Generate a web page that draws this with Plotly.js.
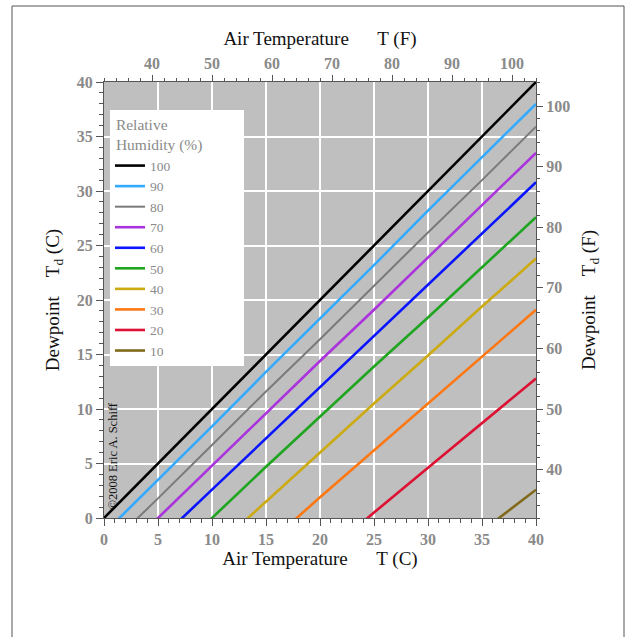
<!DOCTYPE html>
<html>
<head>
<meta charset="utf-8">
<script src="https://cdn.plot.ly/plotly-3.0.1.min.js"></script>
<style>html,body{margin:0;padding:0;background:#fff;}#chart{width:632px;height:637px;}</style>
</head>
<body>
<div id="chart"></div>
<script>
// Air temperature (C) sample points
const airTempC = [0, 5, 10, 15, 20, 25, 30, 35, 40];
// Relative humidity labels (%)
const rhLabels = ['100', '90', '80', '70', '60', '50', '40', '30', '20', '10'];
// Dewpoint (C) for each RH curve
const td100 = [0, 5, 10, 15, 20, 25, 30, 35, 40];
const td90 = [-1.4, 3.5, 8.4, 13.4, 18.3, 23.2, 28.2, 33.1, 38.0];
const td80 = [-3.0, 1.8, 6.7, 11.6, 16.4, 21.3, 26.2, 31.0, 35.9];
const td70 = [-4.8, 0.0, 4.8, 9.6, 14.4, 19.1, 23.9, 28.7, 33.5];
const td60 = [-6.9, -2.1, 2.6, 7.3, 12.0, 16.7, 21.4, 26.1, 30.8];
const td50 = [-9.2, -4.6, 0.0, 4.7, 9.3, 13.9, 18.4, 23.0, 27.6];
const td40 = [-12.0, -7.5, -3.0, 1.5, 6.0, 10.5, 14.9, 19.4, 23.8];
const td30 = [-15.6, -11.2, -6.8, -2.5, 1.9, 6.2, 10.5, 14.8, 19.1];
const td20 = [-20.3, -16.2, -12.0, -7.8, -3.7, 0.5, 4.6, 8.7, 12.8];
const td10 = [-28.1, -24.5, -20.9, -17.4, -14.0, -10.6, -5.0, -1.2, 2.6];
const fahrenheitRange = [32, 104];

const series = [td100, td90, td80, td70, td60, td50, td40, td30, td20, td10];
const colors = ['#000000', '#33aaff', '#7a7a7a', '#aa33dd', '#0a14ff', '#1fa51f', '#ccaa11', '#ff7711', '#dd1133', '#806a1a'];
const widths = [2.6, 2.6, 2, 2.6, 2.6, 2.6, 2.6, 2.6, 2.6, 2.6];

const traces = series.map((s, i) => ({
  x: airTempC, y: s, type: 'scatter', mode: 'lines', name: rhLabels[i],
  line: {color: colors[i], width: widths[i]}, hoverinfo: 'skip'
}));
traces.push({x: fahrenheitRange, y: fahrenheitRange, xaxis: 'x2', yaxis: 'y2', type: 'scatter', mode: 'lines',
  line: {width: 0, color: 'rgba(0,0,0,0)'}, showlegend: false, hoverinfo: 'skip'});

const tickFont = {family: 'Liberation Serif', size: 16, color: '#8a8a8a', weight: 'bold'};
const titleFont = {family: 'Liberation Serif', size: 19, color: '#111'};
const nb = '\u00a0';
const sp = n => nb.repeat(n);

const L = 104, R = 96, T = 82, B = 119, W = 632, H = 637;
const pw = W - L - R, ph = H - T - B;
const px = v => (v - L) / pw, py = v => (H - B - v) / ph;

const layout = {
  width: W, height: H,
  margin: {l: L, r: R, t: T, b: B},
  paper_bgcolor: '#ffffff', plot_bgcolor: '#bfbfbf',
  showlegend: true,
  legend: {
    x: px(110), y: py(110), xanchor: 'left', yanchor: 'top',
    bgcolor: '#ffffff', borderwidth: 0,
    font: {family: 'Liberation Serif', size: 13.5, color: '#8a8a8a'},
    title: {text: sp(1) + 'Relative<br>' + sp(1) + 'Humidity (%)' + sp(10), font: {family: 'Liberation Serif', size: 15.5, color: '#8a8a8a'}},
    tracegroupgap: 0
  },
  xaxis: {
    range: [0, 40], dtick: 5, tick0: 0, showgrid: true, gridcolor: '#ffffff', gridwidth: 2,
    zeroline: false, showline: true, linecolor: '#555', linewidth: 1,
    ticks: 'outside', ticklen: 7, tickcolor: '#555', tickfont: tickFont,
    minor: {dtick: 1, ticklen: 4, tickcolor: '#555', showgrid: false},
    title: {text: 'Air Temperature' + sp(6) + 'T (C)', font: titleFont, standoff: 4}
  },
  yaxis: {
    range: [0, 40], dtick: 5, tick0: 0, showgrid: true, gridcolor: '#ffffff', gridwidth: 2,
    zeroline: false, showline: true, linecolor: '#555', linewidth: 1,
    ticks: 'outside', ticklen: 7, tickcolor: '#555', tickfont: tickFont,
    minor: {dtick: 1, ticklen: 4, tickcolor: '#555', showgrid: false},
    title: {text: 'Dewpoint' + sp(4) + 'T<sub>d</sub> (C)', font: titleFont, standoff: 12}
  },
  xaxis2: {
    overlaying: 'x', side: 'top', anchor: 'y2', range: fahrenheitRange, dtick: 10, tick0: 0,
    showgrid: false, zeroline: false, showline: true, linecolor: '#555', linewidth: 1,
    ticks: 'outside', ticklen: 6, tickcolor: '#555', tickfont: tickFont,
    minor: {dtick: 2, ticklen: 3, tickcolor: '#555', showgrid: false},
    title: {text: 'Air Temperature' + sp(6) + 'T (F)', font: titleFont, standoff: 3}
  },
  yaxis2: {
    overlaying: 'y', side: 'right', anchor: 'x2', range: fahrenheitRange, dtick: 10, tick0: 0,
    showgrid: false, zeroline: false, showline: true, linecolor: '#555', linewidth: 1,
    ticks: 'outside', ticklen: 6, tickcolor: '#555', tickfont: tickFont,
    minor: {dtick: 2, ticklen: 3, tickcolor: '#555', showgrid: false},
    title: {text: 'Dewpoint' + sp(4) + 'T<sub>d</sub> (F)', font: titleFont, standoff: 12}
  },
  annotations: [{
    text: '\u00a92008 Eric A. Schiff', xref: 'paper', yref: 'paper',
    x: px(112), y: py(512), xanchor: 'center', yanchor: 'bottom', textangle: -90,
    showarrow: false, font: {family: 'Liberation Serif', size: 12.5, color: '#111'}
  }],
  shapes: [{
    type: 'rect', xref: 'paper', yref: 'paper',
    x0: px(12), x1: px(624), y0: py(645), y1: py(6),
    line: {color: '#555', width: 1}, fillcolor: 'rgba(0,0,0,0)', layer: 'below'
  }]
};

Plotly.newPlot('chart', traces, layout, {displayModeBar: false, staticPlot: true});
</script>
</body>
</html>
